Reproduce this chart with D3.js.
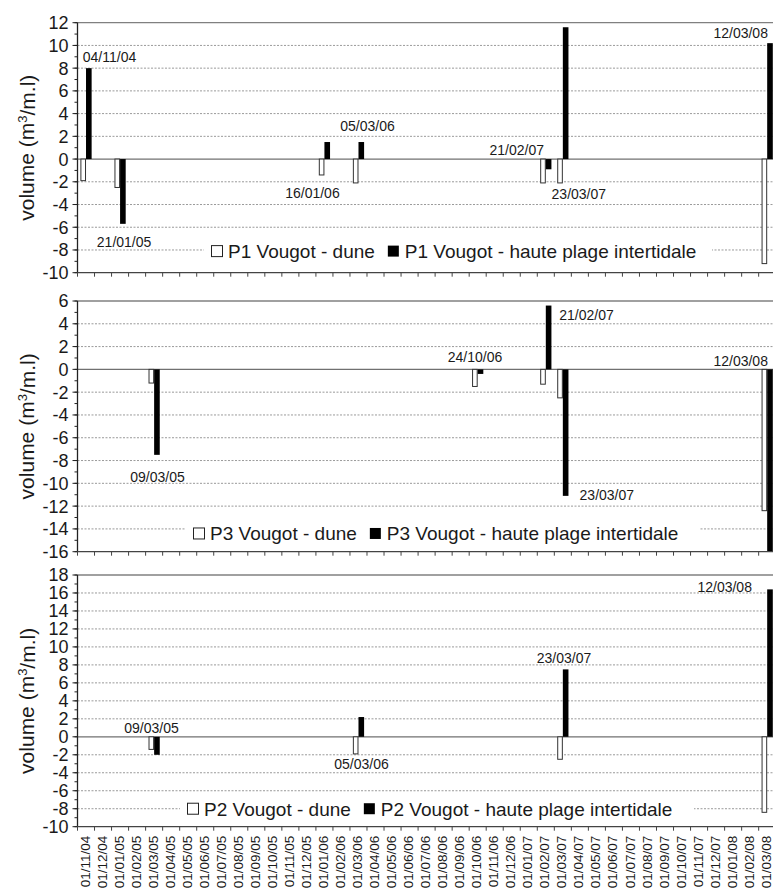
<!DOCTYPE html>
<html><head><meta charset="utf-8">
<script src="https://cdn.jsdelivr.net/npm/d3@7/dist/d3.min.js"></script>
<style>
html,body{margin:0;padding:0;background:#fff;}
svg{display:block;font-family:"Liberation Sans",Arial,sans-serif;}
</style></head>
<body>
<svg id="c" width="773" height="892"></svg>
<script>
// ---- categories (monthly axis) ----
const categories = ["01/11/04","01/12/04",
 "01/01/05","01/02/05","01/03/05","01/04/05","01/05/05","01/06/05","01/07/05","01/08/05","01/09/05","01/10/05","01/11/05","01/12/05",
 "01/01/06","01/02/06","01/03/06","01/04/06","01/05/06","01/06/06","01/07/06","01/08/06","01/09/06","01/10/06","01/11/06","01/12/06",
 "01/01/07","01/02/07","01/03/07","01/04/07","01/05/07","01/06/07","01/07/07","01/08/07","01/09/07","01/10/07","01/11/07","01/12/07",
 "01/01/08","01/02/08","01/03/08"];

// ---- P1 ----
const p1Months = ["01/11/04","01/01/05","01/01/06","01/03/06","01/02/07","01/03/07","01/03/08"];
const p1Dates  = ["04/11/04","21/01/05","16/01/06","05/03/06","21/02/07","23/03/07","12/03/08"];
const p1Dune   = [-1.9,-2.5,-1.4,-2.1,-2.1,-2.1,-9.2];
const p1Haute  = [8.0,-5.7,1.5,1.5,-0.9,11.6,10.2];
const p1Ticks  = [12,10,8,6,4,2,0,-2,-4,-6,-8,-10];

// ---- P3 ----
const p3Months = ["01/03/05","01/10/06","01/02/07","01/03/07","01/03/08"];
const p3Dates  = ["09/03/05","24/10/06","21/02/07","23/03/07","12/03/08"];
const p3Dune   = [-1.2,-1.5,-1.3,-2.5,-12.4];
const p3Haute  = [-7.5,-0.4,5.6,-11.1,-16.0];
const p3Ticks  = [6,4,2,0,-2,-4,-6,-8,-10,-12,-14,-16];

// ---- P2 ----
const p2Months = ["01/03/05","01/03/06","01/03/07","01/03/08"];
const p2Dates  = ["09/03/05","05/03/06","23/03/07","12/03/08"];
const p2Dune   = [-1.4,-1.9,-2.5,-8.4];
const p2Haute  = [-2.0,2.2,7.5,16.4];
const p2Ticks  = [18,16,14,12,10,8,6,4,2,0,-2,-4,-6,-8,-10];

// ---- layout / style (not data) ----
const layout = [
  {name:"P1", months:p1Months, dates:p1Dates, dune:p1Dune, haute:p1Haute, ticks:p1Ticks,
   top:22.7, bottom:272.7, legX:211, legV:-8.1, legBg:[204,712],
   lab:[{v:8.95,dx:23.5},{v:-7.33,dx:4},{v:-3.02,dx:-12},{v:2.88,dx:9},{v:0.77,dx:-29},{v:-3.1,dx:16},{v:11.07,dx:-26.5}]},
  {name:"P3", months:p3Months, dates:p3Dates, dune:p3Dune, haute:p3Haute, ticks:p3Ticks,
   top:301, bottom:551.7, legX:193, legV:-14.4, legBg:[186,700],
   lab:[{v:-9.45,dx:3.4},{v:1.08,dx:-2.7},{v:4.74,dx:40.7},{v:-11.05,dx:44},{v:0.73,dx:-26.5}]},
  {name:"P2", months:p2Months, dates:p2Dates, dune:p2Dune, haute:p2Haute, ticks:p2Ticks,
   top:575, bottom:826.7, legX:187, legV:-8.0, legBg:[180,694],
   lab:[{v:0.98,dx:-2.6},{v:-3.03,dx:3},{v:8.8,dx:1.2},{v:16.7,dx:-42.5}]}
];

const svg = d3.select("#c");
const left = 77.5, right = 775.7;
const x = d3.scaleBand().domain(categories).range([left, right]).padding(0);
const bw = x.bandwidth();
const barW = bw * 0.33;
const txt = "#1a1a1a";

layout.forEach((p, pi) => {
  const ext = d3.extent(p.ticks);
  const y = d3.scaleLinear().domain(ext).range([p.bottom, p.top]);
  const g = svg.append("g");

  // gridlines
  g.selectAll("line.grid").data(p.ticks.filter(t => t !== 0 && t !== ext[1] && t !== ext[0]))
    .enter().append("line")
    .attr("x1", left).attr("x2", right)
    .attr("y1", d => y(d)).attr("y2", d => y(d))
    .attr("stroke", "#9a9a9a").attr("stroke-width", 1).attr("stroke-dasharray", "2,1.5");
  // top border
  g.append("line").attr("x1", left).attr("x2", right).attr("y1", y(ext[1])).attr("y2", y(ext[1]))
    .attr("stroke", "#808080").attr("stroke-width", 1.3);

  // legend background
  const legY = y(p.legV);
  g.append("rect").attr("x", p.legBg[0]).attr("y", legY - 12).attr("width", p.legBg[1] - p.legBg[0]).attr("height", 24)
    .attr("fill", "#fff");

  // zero line
  g.append("line").attr("x1", left).attr("x2", right).attr("y1", y(0)).attr("y2", y(0))
    .attr("stroke", "#707070").attr("stroke-width", 1.3);

  // bars
  const rows = p.months.map((m, i) => ({m, dune: p.dune[i], haute: p.haute[i], date: p.dates[i], lab: p.lab[i]}));
  g.selectAll("rect.dune").data(rows).enter().append("rect")
    .attr("x", d => x(d.m) + bw / 2 - barW + 0.5)
    .attr("width", barW - 1)
    .attr("y", d => Math.min(y(d.dune), y(0)))
    .attr("height", d => Math.abs(y(d.dune) - y(0)))
    .attr("fill", "#fff").attr("stroke", "#333").attr("stroke-width", 1);
  g.selectAll("rect.haute").data(rows).enter().append("rect")
    .attr("x", d => x(d.m) + bw / 2)
    .attr("width", barW)
    .attr("y", d => Math.min(y(d.haute), y(0)))
    .attr("height", d => Math.abs(y(d.haute) - y(0)))
    .attr("fill", "#000");

  // date labels
  g.selectAll("text.date").data(rows).enter().append("text")
    .attr("x", d => x(d.m) + bw / 2 + d.lab.dx)
    .attr("y", d => y(d.lab.v))
    .attr("dy", "0.35em")
    .attr("text-anchor", "middle")
    .attr("font-size", 14).attr("fill", txt)
    .text(d => d.date);

  // y axis
  const minor = d3.range(ext[0], ext[1] + 1, 1);
  g.selectAll("line.minor").data(minor).enter().append("line")
    .attr("x1", left - 3).attr("x2", left).attr("y1", d => y(d)).attr("y2", d => y(d))
    .attr("stroke", "#222").attr("stroke-width", 1);
  g.selectAll("line.major").data(p.ticks).enter().append("line")
    .attr("x1", left - 5).attr("x2", left).attr("y1", d => y(d)).attr("y2", d => y(d))
    .attr("stroke", "#222").attr("stroke-width", 1);
  g.selectAll("text.yt").data(p.ticks).enter().append("text")
    .attr("x", left - 9).attr("y", d => y(d)).attr("dy", "0.36em")
    .attr("text-anchor", "end").attr("font-size", 18).attr("fill", txt)
    .text(d => d);
  g.append("line").attr("x1", left).attr("x2", left).attr("y1", y(ext[1])).attr("y2", y(ext[0]))
    .attr("stroke", "#222").attr("stroke-width", 1.3);

  // x axis line + ticks
  g.append("line").attr("x1", left).attr("x2", right).attr("y1", y(ext[0])).attr("y2", y(ext[0]))
    .attr("stroke", "#444").attr("stroke-width", 1.3);
  const bounds = categories.map(c => x(c)).concat([right]);
  g.selectAll("line.xt").data(bounds).enter().append("line")
    .attr("x1", d => d).attr("x2", d => d).attr("y1", y(ext[0])).attr("y2", y(ext[0]) + 4)
    .attr("stroke", "#444").attr("stroke-width", 1);

  // y title
  const cy = (p.top + p.bottom) / 2;
  const t = g.append("text").attr("transform", `translate(27,${cy}) rotate(-90)`)
    .attr("text-anchor", "middle").attr("dy", "0.35em").attr("font-size", 21).attr("fill", txt);
  t.append("tspan").text("volume (m");
  t.append("tspan").attr("font-size", 13).attr("dy", "-0.55em").text("3");
  t.append("tspan").attr("dy", "0.35em").text("/m.l)");

  // legend
  const lg = g.append("g").attr("transform", `translate(${p.legX},${legY})`);
  lg.append("rect").attr("x", 0.5).attr("y", -5.5).attr("width", 11).attr("height", 11)
    .attr("fill", "#fff").attr("stroke", "#222").attr("stroke-width", 1);
  const t1 = lg.append("text").attr("x", 17).attr("dy", "0.36em").attr("font-size", 19).attr("fill", txt)
    .text(p.name + " Vougot - dune");
  const w1 = t1.node().getComputedTextLength();
  const bx = 17 + w1 + 13;
  lg.append("rect").attr("x", bx).attr("y", -5.5).attr("width", 11).attr("height", 11).attr("fill", "#000");
  lg.append("text").attr("x", bx + 17).attr("dy", "0.36em").attr("font-size", 19).attr("fill", txt)
    .text(p.name + " Vougot - haute plage intertidale");

  // x labels only on last panel
  if (pi === layout.length - 1) {
    g.selectAll("text.xl").data(categories).enter().append("text")
      .attr("transform", d => `translate(${x(d) + bw / 2 - 0.5},${y(ext[0]) + 9}) rotate(-90)`)
      .attr("text-anchor", "end").attr("dy", "0.3em").attr("font-size", 13.5).attr("fill", txt)
      .text(d => d);
  }
});
</script>
</body></html>
